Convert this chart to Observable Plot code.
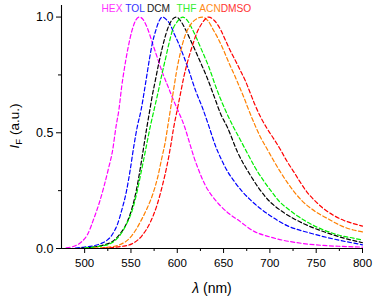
<!DOCTYPE html>
<html>
<head>
<meta charset="utf-8">
<script src="https://cdn.jsdelivr.net/npm/d3@7"></script>
<script src="https://cdn.jsdelivr.net/npm/@observablehq/plot@0.6"></script>
<style>
  html, body { margin: 0; padding: 0; background: #fff; }
  #chart svg { display: block; }
</style>
</head>
<body>
<div id="chart"></div>
<script>
// ---- data ----
const solvents = ["HEX", "TOL", "DCM", "THF", "ACN", "DMSO"];

const lambdaHEX = [480,490,497,503,510,516,521,526,530,534,537,540,543,547,551,555,559,563,568,573,578,584,590,596,602,608,613,618,623,630,638,647,656,665,683,700,715,735,755,778,800];
const intensityHEX = [0.003,0.012,0.03,0.06,0.13,0.20,0.27,0.35,0.42,0.53,0.60,0.70,0.78,0.87,0.94,0.985,1.0,0.99,0.95,0.89,0.83,0.76,0.70,0.64,0.585,0.525,0.46,0.395,0.34,0.275,0.225,0.183,0.15,0.125,0.074,0.05,0.035,0.022,0.014,0.009,0.006];

const lambdaTOL = [490,500,510,518,524,528,532,535,540,545,549,553,557,561,564,567,570,573,577,580,584,588,592,597,601,607,612,620,627,634,641,647,654,661,670,679,690,700,718,744,770,800];
const intensityTOL = [0.002,0.006,0.012,0.022,0.035,0.05,0.075,0.10,0.165,0.245,0.335,0.44,0.53,0.60,0.67,0.745,0.82,0.885,0.945,0.98,1.0,0.99,0.97,0.925,0.89,0.83,0.775,0.68,0.61,0.53,0.446,0.39,0.335,0.293,0.247,0.21,0.172,0.143,0.10,0.066,0.04,0.016];

const lambdaDCM = [495,505,515,522,530,538,546,551,556,560,564,567,570,573,576,580,584,588,593,599,605,609,616,625,632,640,647,654,665,679,697,715,733,760,780,800];
const intensityDCM = [0.001,0.004,0.01,0.017,0.03,0.062,0.115,0.172,0.255,0.345,0.445,0.52,0.59,0.66,0.72,0.80,0.87,0.93,0.98,1.0,0.975,0.945,0.886,0.805,0.74,0.655,0.58,0.525,0.417,0.316,0.215,0.155,0.114,0.07,0.045,0.025];

const lambdaTHF = [500,510,520,527,533,540,546,551,556,561,566,571,575,579,583,587,591,595,600,606,611,616,625,634,643,652,660,668,675,684,693,702,711,720,729,740,751,765,776,790,800];
const intensityTHF = [0.003,0.006,0.012,0.02,0.035,0.068,0.112,0.16,0.235,0.33,0.43,0.53,0.60,0.67,0.745,0.815,0.885,0.945,0.98,1.0,0.985,0.95,0.87,0.785,0.684,0.597,0.53,0.47,0.417,0.35,0.294,0.245,0.2,0.17,0.143,0.115,0.092,0.07,0.056,0.045,0.036];

const lambdaACN = [510,520,530,540,546,551,556,560,567,574,579,583,587,590,593,596,599,603,608,614,620,627,633,639,645,650,656,661,667,672,677,684,690,697,704,711,718,726,735,744,753,762,771,780,790,800];
const intensityACN = [0.002,0.004,0.008,0.02,0.035,0.056,0.085,0.114,0.17,0.24,0.31,0.385,0.46,0.535,0.61,0.685,0.76,0.84,0.915,0.965,0.99,1.0,0.985,0.944,0.9,0.857,0.80,0.756,0.70,0.652,0.60,0.532,0.48,0.43,0.38,0.333,0.29,0.246,0.205,0.174,0.15,0.13,0.11,0.093,0.08,0.072];

const lambdaDMSO = [520,530,540,551,562,571,578,584,589,593,596,600,603.5,607,611,616,621,627,634,640,647,652,657,663,668,674,679,684,690,697,704,711,718,726,733,740,749,758,768,780,790,800];
const intensityDMSO = [0.002,0.004,0.009,0.02,0.056,0.114,0.186,0.273,0.36,0.446,0.52,0.60,0.67,0.74,0.805,0.872,0.93,0.975,1.0,0.985,0.944,0.90,0.857,0.81,0.77,0.72,0.67,0.62,0.568,0.518,0.475,0.43,0.38,0.33,0.285,0.244,0.205,0.172,0.145,0.121,0.108,0.097];

const xTicks = [500, 550, 600, 650, 700, 750, 800];
const xMinorTicks = [525, 575, 625, 675, 725, 775];
const yTicks = [0, 0.5, 1.0];
const yMinorTicks = [0.25, 0.75];

// ---- build table ----
const series = {
  HEX: [lambdaHEX, intensityHEX],
  TOL: [lambdaTOL, intensityTOL],
  DCM: [lambdaDCM, intensityDCM],
  THF: [lambdaTHF, intensityTHF],
  ACN: [lambdaACN, intensityACN],
  DMSO: [lambdaDMSO, intensityDMSO]
};
const rows = solvents.flatMap(s => series[s][0].map((l, i) => ({solvent: s, lambda: l, value: series[s][1][i]})));

const colors = ["#ff00ff", "#0000ff", "#000000", "#00ee00", "#ff8000", "#ff0000"];
const legendColors = ["#ff33ff", "#3333ff", "#222222", "#33ee33", "#ff8c1a", "#ff3333"];
const legendX = [112, 135, 158.5, 186.5, 210, 236]; // layout of the in-plot labels
const font = "'Liberation Sans', Arial, Helvetica, sans-serif";

const svg = Plot.plot({
  width: 377,
  height: 301,
  marginLeft: 61,
  marginRight: 15,
  marginTop: 5,
  marginBottom: 53,
  style: {fontFamily: font, color: "#000", background: "#fff", overflow: "visible"},
  x: {domain: [475, 800]},
  y: {domain: [0, 1.05]},
  color: {domain: solvents, range: colors},
  marks: [
    Plot.line(rows, {x: "lambda", y: "value", z: "solvent", stroke: "solvent", curve: "monotone-x", strokeWidth: 1.2, strokeDasharray: "4,2.5"}),
    Plot.ruleX([475], {y1: 0, y2: 1.05, stroke: "#000", strokeWidth: 1.1}),
    Plot.ruleY([0], {x1: 475, x2: 800, stroke: "#000", strokeWidth: 1.1}),
    Plot.axisX(xTicks, {tickSize: 5, tickPadding: 5, fontSize: 11.5, label: null, stroke: "#000", fill: "#000"}),
    Plot.axisX(xMinorTicks, {tickSize: 3, tickFormat: () => "", label: null, stroke: "#000"}),
    Plot.axisY(yTicks, {tickSize: 5, tickPadding: 3, fontSize: 12.5, tickFormat: d3.format(".1f"), label: null, stroke: "#000", fill: "#000"}),
    Plot.axisY(yMinorTicks, {tickSize: 3, tickFormat: () => "", label: null, stroke: "#000"})
  ]
});

document.getElementById("chart").appendChild(svg);
const s = d3.select(svg);

// x axis label
const xl = s.append("text")
  .attr("x", 212).attr("y", 293)
  .attr("text-anchor", "middle")
  .attr("font-family", font).attr("font-size", 14).attr("fill", "#000");
xl.append("tspan").attr("font-style", "italic").text("λ");
xl.append("tspan").text(" (nm)");

// y axis label
const yl = s.append("text")
  .attr("transform", "translate(19,126) rotate(-90)")
  .attr("text-anchor", "middle")
  .attr("font-family", font).attr("font-size", 13.5).attr("fill", "#000");
yl.append("tspan").attr("font-style", "italic").text("I");
yl.append("tspan").attr("font-size", 9.5).attr("dy", 3).text("F");
yl.append("tspan").attr("dy", -3).text(" (a.u.)");

// in-plot solvent labels
solvents.forEach((name, i) => {
  s.append("text")
    .attr("x", legendX[i]).attr("y", 12)
    .attr("font-family", font).attr("font-size", 10.2)
    .attr("fill", legendColors[i])
    .text(name);
});
</script>
</body>
</html>
